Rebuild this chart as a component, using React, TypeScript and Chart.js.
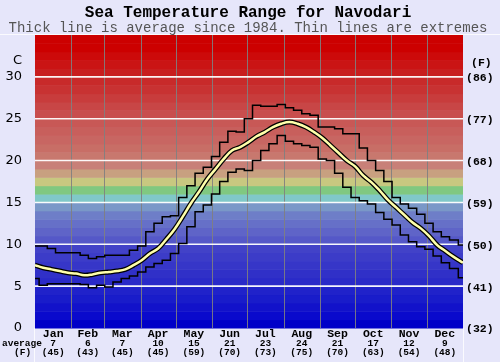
import React, { useEffect, useRef } from "react";
import { Chart, registerables } from "chart.js";

Chart.register(...registerables);

const TITLE = "Sea Temperature Range for Navodari";
const SUBTITLE = "Thick line is average since 1984. Thin lines are extremes";

const MONTHS = ["Jan", "Feb", "Mar", "Apr", "May", "Jun", "Jul", "Aug", "Sep", "Oct", "Nov", "Dec"];
const MONTH_START_DAYS = [0, 31, 59, 90, 120, 151, 181, 212, 243, 273, 304, 334, 365];
const MONTH_AVG_C = ["7", "6", "7", "10", "15", "21", "23", "24", "21", "17", "12", "9"];
const MONTH_AVG_F = ["(45)", "(43)", "(45)", "(45)", "(59)", "(70)", "(73)", "(75)", "(70)", "(63)", "(54)", "(48)"];

const C_TICKS = [0, 5, 10, 15, 20, 25, 30];
const F_TICKS = ["(32)", "(41)", "(50)", "(59)", "(68)", "(77)", "(86)"];

const DAYS = [0, 7, 14, 21, 28, 35, 42, 49, 56, 63, 70, 77, 84, 91, 98, 105, 112, 119, 126, 133, 140, 147, 154, 161, 168, 175, 182, 189, 196, 203, 210, 217, 224, 231, 238, 245, 252, 259, 266, 273, 280, 287, 294, 301, 308, 315, 322, 329, 336, 343, 350, 357, 365];

const AVG = [7.5, 7.2, 7.0, 6.8, 6.6, 6.5, 6.3, 6.4, 6.6, 6.7, 6.8, 7.0, 7.5, 8.1, 8.9, 9.5, 10.6, 11.8, 13.3, 14.9, 16.3, 17.8, 19.0, 20.2, 21.2, 21.6, 22.2, 22.9, 23.4, 24.0, 24.4, 24.6, 24.4, 24.0, 23.4, 22.7, 21.8, 20.9, 20.0, 19.3, 18.2, 17.4, 16.4, 15.3, 14.4, 13.5, 12.6, 11.9, 11.0, 9.9, 9.2, 8.5, 7.8];

const MAX = [9.8, 9.8, 9.5, 9.0, 9.0, 9.0, 8.7, 8.3, 8.5, 8.7, 8.7, 8.7, 9.3, 9.8, 11.5, 12.5, 13.3, 13.4, 15.6, 17.0, 18.5, 19.2, 20.5, 22.2, 23.5, 23.4, 25.0, 26.6, 26.5, 26.5, 26.7, 26.3, 26.0, 25.6, 25.4, 24.0, 24.0, 23.8, 23.2, 23.2, 21.5, 20.0, 18.8, 17.5, 15.6, 14.8, 14.3, 13.6, 12.5, 11.5, 10.9, 10.5, 9.9];

const MIN = [5.9, 5.1, 5.3, 5.3, 5.3, 5.3, 5.2, 4.8, 5.1, 4.9, 5.5, 5.9, 6.2, 6.7, 7.3, 7.7, 8.1, 8.9, 10.1, 12.1, 13.9, 14.7, 16.0, 17.5, 18.6, 19.0, 18.8, 20.0, 21.2, 22.0, 23.0, 22.3, 22.0, 21.8, 21.6, 20.2, 20.0, 18.5, 16.8, 15.6, 15.2, 14.8, 13.8, 13.0, 12.3, 11.1, 10.3, 9.7, 9.4, 8.6, 7.8, 7.1, 6.0];

// one colour per 1 degree band, from 0 upward
const BAND_COLORS = [
  "rgb(0,0,200)", "rgb(10,10,204)", "rgb(18,18,202)", "rgb(25,28,202)", "rgb(32,34,202)",
  "rgb(42,42,200)", "rgb(48,48,200)", "rgb(54,54,200)", "rgb(60,60,200)", "rgb(66,66,200)",
  "rgb(85,88,200)", "rgb(95,100,200)", "rgb(102,112,200)", "rgb(110,126,200)", "rgb(122,152,200)",
  "rgb(128,200,200)", "rgb(128,200,128)", "rgb(200,200,128)", "rgb(200,160,128)", "rgb(200,128,120)",
  "rgb(200,120,110)", "rgb(200,110,102)", "rgb(200,102,98)", "rgb(200,95,92)", "rgb(200,88,86)",
  "rgb(200,78,78)", "rgb(200,70,70)", "rgb(200,60,60)", "rgb(200,50,50)", "rgb(200,42,42)",
  "rgb(200,30,30)", "rgb(202,20,20)", "rgb(204,10,10)", "rgb(204,0,0)", "rgb(204,0,0)"
];

const pts = (ys: number[]) => DAYS.map((d, i) => ({ x: d, y: ys[i] }));

const decorPlugin = {
  id: "decor",
  beforeDraw(chart: any) {
    const ctx = chart.ctx;
    ctx.save();
    ctx.fillStyle = "#e6e6fa";
    ctx.fillRect(0, 0, chart.width, chart.height);
    ctx.restore();
  },
  beforeDatasetsDraw(chart: any) {
    const ctx = chart.ctx;
    const xs = chart.scales.x;
    const ys = chart.scales.y;
    const a = chart.chartArea;
    ctx.save();
    for (let i = 0; i < BAND_COLORS.length; i++) {
      const y0 = ys.getPixelForValue(i);
      const y1 = ys.getPixelForValue(i + 1);
      ctx.fillStyle = BAND_COLORS[i];
      ctx.fillRect(a.left, y1, a.right - a.left, y0 - y1 + 0.5);
    }
    ctx.strokeStyle = "rgba(128,128,128,0.9)";
    ctx.lineWidth = 1;
    for (let i = 1; i < MONTH_START_DAYS.length - 1; i++) {
      const x = Math.round(xs.getPixelForValue(MONTH_START_DAYS[i])) + 0.5;
      ctx.beginPath();
      ctx.moveTo(x, a.top);
      ctx.lineTo(x, a.bottom);
      ctx.stroke();
    }
    ctx.strokeStyle = "rgba(255,255,255,0.95)";
    ctx.lineWidth = 1.6;
    for (const v of C_TICKS) {
      if (v === 0) continue;
      const y = ys.getPixelForValue(v);
      ctx.beginPath();
      ctx.moveTo(a.left, y);
      ctx.lineTo(a.right, y);
      ctx.stroke();
    }
    ctx.restore();
  },
  afterDraw(chart: any) {
    const ctx = chart.ctx;
    const xs = chart.scales.x;
    const ys = chart.scales.y;
    const a = chart.chartArea;
    ctx.save();
    ctx.strokeStyle = "rgba(255,255,255,0.8)";
    ctx.lineWidth = 1;
    ctx.beginPath();
    ctx.moveTo(0, a.top - 0.5);
    ctx.lineTo(chart.width, a.top - 0.5);
    ctx.moveTo(a.left - 0.5, a.bottom);
    ctx.lineTo(a.left - 0.5, chart.height);
    ctx.moveTo(a.right + 0.5, a.bottom);
    ctx.lineTo(a.right + 0.5, chart.height);
    ctx.stroke();

    ctx.textAlign = "center";
    ctx.textBaseline = "middle";
    ctx.fillStyle = "#000";
    ctx.font = "bold 16px 'Liberation Mono'";
    ctx.fillText(TITLE, 248, 13);
    ctx.fillStyle = "#555";
    ctx.font = "14px 'Liberation Mono'";
    ctx.fillText(SUBTITLE, 248, 28);

    ctx.fillStyle = "#000";
    ctx.textAlign = "right";
    ctx.font = "13px 'DejaVu Sans'";
    for (const v of C_TICKS) {
      ctx.fillText(String(v), 22, ys.getPixelForValue(v));
    }
    ctx.fillText("C", 22, 61);

    ctx.textAlign = "left";
    ctx.font = "bold 11.5px 'Liberation Mono'";
    for (let i = 0; i < C_TICKS.length; i++) {
      ctx.fillText(F_TICKS[i], 466, ys.getPixelForValue(C_TICKS[i]) + 1.5);
    }
    ctx.fillText("(F)", 471, 63);

    ctx.textAlign = "center";
    for (let i = 0; i < MONTHS.length; i++) {
      const cx = xs.getPixelForValue((MONTH_START_DAYS[i] + MONTH_START_DAYS[i + 1]) / 2);
      ctx.font = "bold 11.5px 'Liberation Mono'";
      ctx.fillText(MONTHS[i], cx, 334);
      ctx.font = "bold 9.5px 'Liberation Mono'";
      ctx.fillText(MONTH_AVG_C[i], cx, 343.5);
      ctx.fillText(MONTH_AVG_F[i], cx, 353);
    }
    ctx.textAlign = "left";
    ctx.font = "bold 9.5px 'Liberation Mono'";
    ctx.fillText("average", 2, 343.5);
    ctx.fillText("(F)", 14, 353);
    ctx.restore();
  },
};

export default function App() {
  const ref = useRef<HTMLCanvasElement>(null);
  useEffect(() => {
    if (!ref.current) return;
    const chart = new Chart(ref.current, {
      type: "line",
      data: {
        datasets: [
          { data: pts(AVG), borderColor: "rgb(255,255,170)", borderWidth: 2.5, pointRadius: 0, tension: 0.4, fill: false, order: 1 },
          { data: pts(AVG), borderColor: "#000", borderWidth: 5, pointRadius: 0, tension: 0.4, fill: false, order: 2 },
          { data: pts(MAX), borderColor: "#000", borderWidth: 1.5, pointRadius: 0, stepped: "middle", fill: false, order: 3 },
          { data: pts(MIN), borderColor: "#000", borderWidth: 1.5, pointRadius: 0, stepped: "middle", fill: false, order: 4 },
        ],
      },
      options: {
        responsive: false,
        animation: false,
        layout: { padding: { left: 35, top: 35, right: 37, bottom: 34 } },
        plugins: { legend: { display: false }, tooltip: { enabled: false }, title: { display: false } },
        scales: {
          x: { type: "linear", min: 0, max: 365, display: false },
          y: { type: "linear", min: 0, max: 35, display: false },
        },
      },
      plugins: [decorPlugin],
    });
    return () => chart.destroy();
  }, []);
  return (
    <div style={{ position: "fixed", left: 0, top: 0, width: 500, height: 362 }}>
      <canvas ref={ref} width={500} height={362} style={{ width: 500, height: 362, display: "block" }} />
    </div>
  );
}
